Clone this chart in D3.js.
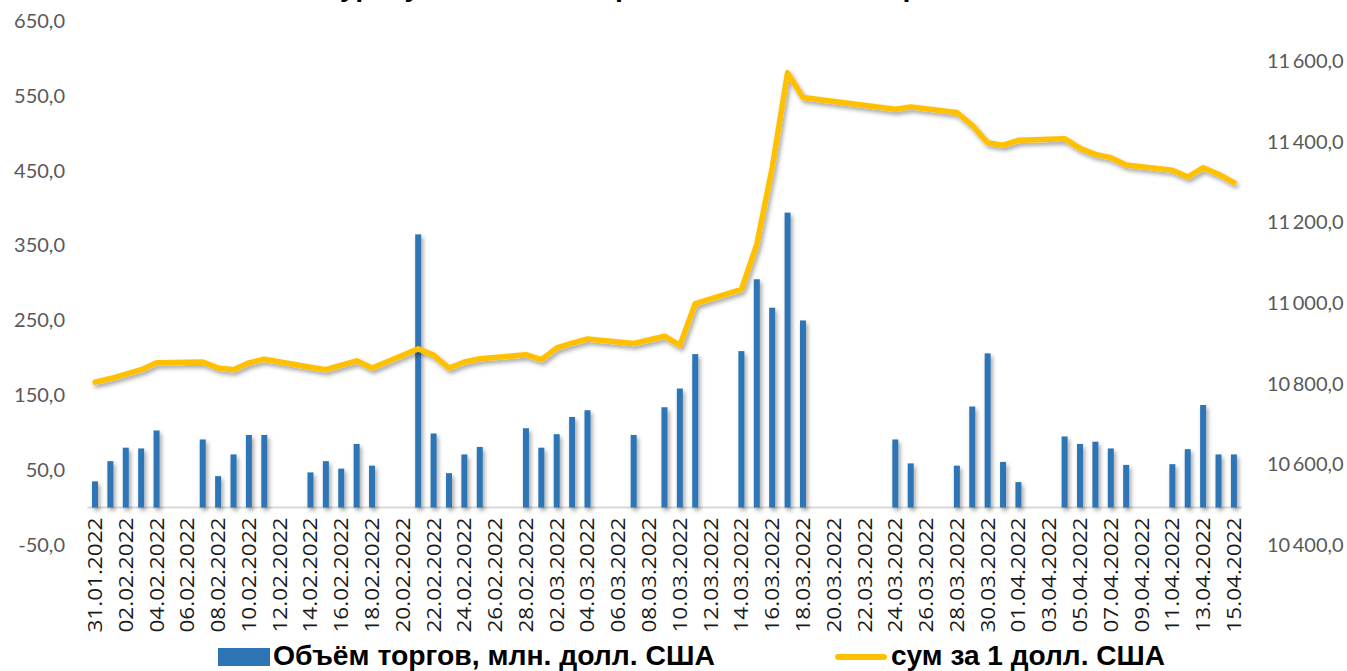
<!DOCTYPE html>
<html>
<head>
<meta charset="utf-8">
<script src="https://cdn.jsdelivr.net/npm/d3@7"></script>
<style>
  html, body { margin: 0; padding: 0; background: #fff; }
  svg { display: block; }
</style>
</head>
<body>
<svg id="chart" width="1347" height="671"></svg>
<script>
// ---- DATA ----
const days = [
  "31.01.2022","01.02.2022","02.02.2022","03.02.2022","04.02.2022","05.02.2022","06.02.2022",
  "07.02.2022","08.02.2022","09.02.2022","10.02.2022","11.02.2022","12.02.2022","13.02.2022",
  "14.02.2022","15.02.2022","16.02.2022","17.02.2022","18.02.2022","19.02.2022","20.02.2022",
  "21.02.2022","22.02.2022","23.02.2022","24.02.2022","25.02.2022","26.02.2022","27.02.2022",
  "28.02.2022","01.03.2022","02.03.2022","03.03.2022","04.03.2022","05.03.2022","06.03.2022",
  "07.03.2022","08.03.2022","09.03.2022","10.03.2022","11.03.2022","12.03.2022","13.03.2022",
  "14.03.2022","15.03.2022","16.03.2022","17.03.2022","18.03.2022","19.03.2022","20.03.2022",
  "21.03.2022","22.03.2022","23.03.2022","24.03.2022","25.03.2022","26.03.2022","27.03.2022",
  "28.03.2022","29.03.2022","30.03.2022","31.03.2022","01.04.2022","02.04.2022","03.04.2022",
  "04.04.2022","05.04.2022","06.04.2022","07.04.2022","08.04.2022","09.04.2022","10.04.2022",
  "11.04.2022","12.04.2022","13.04.2022","14.04.2022","15.04.2022"
];

// Trading volume, mln USD (null = no trading)
const volume = [
  35, 62, 80, 79, 103, null, null,
  91, 42, 71, 97, 97, null, null,
  47, 62, 52, 85, 56, null, null,
  365, 99, 46, 71, 81, null, null,
  106, 80, 98, 121, 130, null, null,
  97, null, 134, 159, 205, null, null,
  209, 305, 267, 394, 250, null, null,
  null, null, null, 91, 59, null, null,
  56, 135, 206, 61, 34, null, null,
  95, 85, 88, 79, 57, null, null,
  58, 78, 137, 71, 71
];

// Sum per 1 USD (null = no fixing)
const rate = [
  10804, 10813, 10824, 10835, 10852, null, null,
  10854, 10839, 10835, 10852, 10861, null, null,
  10841, 10835, 10846, 10857, 10839, null, null,
  10887, 10871, 10839, 10854, 10862, null, null,
  10872, 10860, 10889, 10901, 10911, null, null,
  10900, null, 10918, 10895, 10999, null, null,
  11034, 11146, 11336, 11572, 11510, null, null,
  null, null, null, 11481, 11487, null, null,
  11473, 11441, 11398, 11392, 11404, null, null,
  11408, 11384, 11369, 11361, 11343, null, null,
  11330, 11313, 11336, 11320, 11299
];

const leftTicks = [-50, 50, 150, 250, 350, 450, 550, 650];
const rightTicks = [10400, 10600, 10800, 11000, 11200, 11400, 11600];
const xTickLabels = [
  "31.01.2022","02.02.2022","04.02.2022","06.02.2022","08.02.2022","10.02.2022","12.02.2022",
  "14.02.2022","16.02.2022","18.02.2022","20.02.2022","22.02.2022","24.02.2022","26.02.2022",
  "28.02.2022","02.03.2022","04.03.2022","06.03.2022","08.03.2022","10.03.2022","12.03.2022",
  "14.03.2022","16.03.2022","18.03.2022","20.03.2022","22.03.2022","24.03.2022","26.03.2022",
  "28.03.2022","30.03.2022","01.04.2022","03.04.2022","05.04.2022","07.04.2022","09.04.2022",
  "11.04.2022","13.04.2022","15.04.2022"
];

const seriesNames = ["Объём торгов, млн. долл. США", "сум за 1 долл. США"];
const titleText = "Курс сума и объём торгов на валютной бирже";

// ---- CHART ----
const svg = d3.select("#chart");
const plot = { left: 87.3, right: 1241.6, top: 21, bottom: 545 };

const defs = svg.append("defs");
const f = defs.append("filter").attr("id", "shadow")
  .attr("x", "-50%").attr("y", "-50%").attr("width", "200%").attr("height", "200%");
f.append("feDropShadow").attr("dx", 2).attr("dy", 3).attr("stdDeviation", 2)
  .attr("flood-color", "#000").attr("flood-opacity", 0.35);

const x = d3.scaleBand().domain(days).range([plot.left, plot.right]).padding(0);
const yL = d3.scaleLinear().domain([-50, 650]).range([plot.bottom, plot.top]);
const yR = d3.scaleLinear().domain([10400, 11700]).range([plot.bottom, plot.top]);
const cx = d => x(d) + x.bandwidth() / 2;

// title (clipped at top like the reference)
svg.append("text")
  .attr("x", 640).attr("y", -4)
  .attr("text-anchor", "middle")
  .attr("font-family", "Open Sans, sans-serif")
  .attr("font-weight", "bold")
  .attr("font-size", 26)
  .attr("fill", "#000")
  .text(titleText);

// baseline
svg.append("line")
  .attr("x1", plot.left).attr("x2", plot.right)
  .attr("y1", yL(0)).attr("y2", yL(0))
  .attr("stroke", "#d9d9d9").attr("stroke-width", 2);

// bars
const barW = 6;
svg.append("g").attr("filter", "url(#shadow)")
  .selectAll("rect")
  .data(days.map((d, i) => ({ d, v: volume[i] })).filter(o => o.v != null))
  .join("rect")
  .attr("x", o => cx(o.d) - barW / 2)
  .attr("width", barW)
  .attr("y", o => yL(o.v))
  .attr("height", o => yL(0) - yL(o.v))
  .attr("fill", "#2E75B6");

// line
const linePts = days.map((d, i) => ({ d, v: rate[i] })).filter(o => o.v != null);
const line = d3.line().x(o => cx(o.d)).y(o => yR(o.v));
svg.append("path")
  .datum(linePts)
  .attr("d", line)
  .attr("fill", "none")
  .attr("stroke", "#FFC000")
  .attr("stroke-width", 5.5)
  .attr("stroke-linejoin", "round")
  .attr("stroke-linecap", "round")
  .attr("filter", "url(#shadow)");

// left axis
const gL = svg.append("g").attr("transform", "translate(68,0)")
  .call(d3.axisLeft(yL).tickValues(leftTicks).tickSize(0).tickPadding(3)
    .tickFormat(v => d3.format(".1f")(v).replace(".", ",").replace("\u2212", "-")));
gL.select(".domain").remove();
gL.selectAll("text").attr("font-family", "Lato, sans-serif").attr("font-size", 20).attr("fill", "#595959");

// right axis
const fmtR = v => { const s = d3.format(",.1f")(v); return s.replace(",", "\u2009").replace(".", ","); };
const gR = svg.append("g").attr("transform", "translate(1264,0)")
  .call(d3.axisRight(yR).tickValues(rightTicks).tickSize(0).tickPadding(3).tickFormat(fmtR));
gR.select(".domain").remove();
gR.selectAll("text").attr("font-family", "Lato, sans-serif").attr("font-size", 20).attr("fill", "#595959");

// x axis
const gX = svg.append("g").attr("transform", `translate(0,${yL(0)})`)
  .call(d3.axisBottom(x).tickValues(xTickLabels).tickSize(0));
gX.select(".domain").remove();
gX.selectAll("text")
  .attr("font-family", "Open Sans, sans-serif")
  .attr("font-size", 20)
  .attr("fill", "#1a1a1a")
  .attr("text-anchor", "end")
  .attr("x", 0).attr("y", 0).attr("dy", "0.35em")
  .attr("textLength", 115).attr("lengthAdjust", "spacingAndGlyphs")
  .attr("transform", "translate(0,10) rotate(-90)");

// legend
const lg = svg.append("g");
lg.append("rect").attr("x", 218).attr("y", 648).attr("width", 52).attr("height", 18).attr("fill", "#2E75B6");
lg.append("text").attr("x", 273).attr("y", 665)
  .attr("font-family", "Liberation Sans Narrow, sans-serif").attr("font-weight", "bold")
  .attr("font-size", 27).attr("fill", "#000")
  .attr("textLength", 442).attr("lengthAdjust", "spacingAndGlyphs")
  .text(seriesNames[0]);
lg.append("line").attr("x1", 838).attr("x2", 884).attr("y1", 657).attr("y2", 657)
  .attr("stroke", "#FFC000").attr("stroke-width", 6).attr("stroke-linecap", "round");
lg.append("text").attr("x", 891).attr("y", 665)
  .attr("font-family", "Liberation Sans Narrow, sans-serif").attr("font-weight", "bold")
  .attr("font-size", 27).attr("fill", "#000")
  .attr("textLength", 274).attr("lengthAdjust", "spacingAndGlyphs")
  .text(seriesNames[1]);
</script>
</body>
</html>
